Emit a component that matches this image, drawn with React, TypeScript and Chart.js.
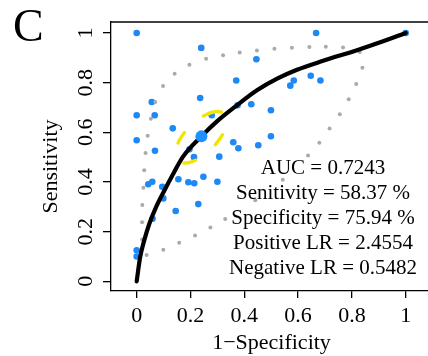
import React, { useEffect, useRef } from "react";
import { Chart, registerables } from "chart.js";

Chart.register(...registerables);

// ---- axis ticks ----
const xTicks = [0, 0.2, 0.4, 0.6, 0.8, 1];
const xTickLabels = ["0", "0.2", "0.4", "0.6", "0.8", "1"];
const yTicks = [0, 0.2, 0.4, 0.6, 0.8, 1];
const yTickLabels = ["0", "0.2", "0.4", "0.6", "0.8", "1"];

// ---- observed (1-specificity, sensitivity) points (blue) ----
const blueFpr = [
  0, 0.24, 0.236, 0.056, 0, 0.067, 0.134, 0, 0.068, 0.279, 0.359, 0.378, 0.196, 0.213,
  0.307, 0.155, 0.192, 0.214, 0.248, 0.3, 0.058, 0.043, 0.095, 0.099, 0.145, 0.229,
  0.059, 0, 0, 0.667, 0.445, 0.37, 0.584, 0.571, 0.647, 0.683, 0.426, 0.499, 0.375,
  0.499, 0.452, 1,
];
const blueTpr = [
  1.0, 0.94, 0.738, 0.722, 0.669, 0.669, 0.616, 0.568, 0.526, 0.669, 0.56, 0.536, 0.532,
  0.5, 0.502, 0.411, 0.399, 0.395, 0.421, 0.401, 0.401, 0.391, 0.381, 0.334, 0.283,
  0.311, 0.252, 0.125, 0.1, 1.0, 0.894, 0.809, 0.809, 0.788, 0.828, 0.809, 0.713, 0.689,
  0.709, 0.584, 0.548, 1.0,
];

// ---- fitted ROC curve (black) ----
const rocFpr = [
  0, 0.013, 0.028, 0.047, 0.072, 0.103, 0.136, 0.171, 0.2406, 0.2985, 0.373, 0.447,
  0.522, 0.596, 0.693, 0.816, 0.916, 1,
];
const rocTpr = [
  0, 0.098, 0.165, 0.232, 0.299, 0.366, 0.433, 0.5, 0.5837, 0.644, 0.709, 0.769, 0.816,
  0.852, 0.888, 0.93, 0.967, 1,
];

// ---- confidence band (gray dotted loop) ----
const bandFpr = [
  0.037, 0.099, 0.158, 0.217, 0.274, 0.329, 0.441, 0.543, 0.637, 0.679, 0.717, 0.755,
  0.788, 0.816, 0.839, 0.829, 0.767, 0.703, 0.642, 0.577, 0.512, 0.447, 0.383, 0.321,
  0.258, 0.196, 0.141, 0.098, 0.069, 0.053, 0.041, 0.033, 0.028, 0.025, 0.021, 0.02, 0.02,
];
const bandTpr = [
  0.106, 0.127, 0.155, 0.185, 0.217, 0.251, 0.326, 0.409, 0.507, 0.558, 0.615, 0.673,
  0.733, 0.795, 0.86, 0.923, 0.942, 0.945, 0.944, 0.941, 0.937, 0.93, 0.921, 0.91, 0.896,
  0.872, 0.836, 0.787, 0.722, 0.655, 0.586, 0.517, 0.447, 0.377, 0.307, 0.238, 0.168,
];

// ---- confidence ellipse around the optimal cut-off (yellow dashed) ----
const ellFpr = [
  0.2716, 0.2938, 0.3123, 0.3258, 0.3334, 0.3345, 0.3292, 0.3177, 0.3009, 0.2798, 0.2559,
  0.2309, 0.2065, 0.1843, 0.1658, 0.1523, 0.1447, 0.1436, 0.1489, 0.1604, 0.1772, 0.1983,
  0.2221, 0.2471, 0.2716,
];
const ellTpr = [
  0.6776, 0.6834, 0.6821, 0.6739, 0.6593, 0.6392, 0.6152, 0.5887, 0.5616, 0.5358, 0.513,
  0.4947, 0.4823, 0.4765, 0.4777, 0.486, 0.5006, 0.5207, 0.5447, 0.5712, 0.5983, 0.6241,
  0.6469, 0.6652, 0.6776,
];

// ---- optimal cut-off point ----
const cutFpr = [0.2406];
const cutTpr = [0.5837];

// ---- annotation ----
const statLines = [
  "AUC = 0.7243",
  "Senitivity = 58.37 %",
  "Specificity = 75.94 %",
  "Positive LR = 2.4554",
  "Negative LR = 0.5482",
];
const panelLabel = "C";
const xTitle = "1\u2212Specificity";
const yTitle = "Sensitivity";

const SERIF = "'Liberation Serif', 'DejaVu Serif', serif";

const zip = (xs: number[], ys: number[]) => xs.map((x, i) => ({ x, y: ys[i] }));

export default function App() {
  const ref = useRef<HTMLCanvasElement | null>(null);

  useEffect(() => {
    if (!ref.current) return;

    const overlay = {
      id: "overlay",
      afterDatasetsDraw(chart: any) {
        const { ctx, chartArea, scales } = chart;
        const ys = scales.y;
        ctx.save();
        // top border of box
        ctx.strokeStyle = "#000";
        ctx.lineWidth = 1.3;
        ctx.beginPath();
        ctx.moveTo(chartArea.left, chartArea.top);
        ctx.lineTo(chartArea.right, chartArea.top);
        ctx.stroke();

        ctx.fillStyle = "#000";
        // y tick labels (rotated, parallel to axis)
        ctx.font = `22px ${SERIF}`;
        ctx.textAlign = "center";
        ctx.textBaseline = "alphabetic";
        yTicks.forEach((v, i) => {
          const py = ys.getPixelForValue(v);
          ctx.save();
          ctx.translate(92, py);
          ctx.rotate(-Math.PI / 2);
          ctx.fillText(yTickLabels[i], 0, 0);
          ctx.restore();
        });
        // y title
        ctx.save();
        ctx.translate(57, 166.5);
        ctx.rotate(-Math.PI / 2);
        ctx.fillText(yTitle, 0, 0);
        ctx.restore();
        // x title
        ctx.fillText(xTitle, 271.5, 349);

        // panel label
        ctx.textAlign = "left";
        ctx.font = `46px ${SERIF}`;
        ctx.fillText(panelLabel, 13, 41);

        // statistics
        ctx.textAlign = "center";
        ctx.font = `21px ${SERIF}`;
        statLines.forEach((s, i) => {
          ctx.fillText(s, 323, 173.5 + i * 25);
        });
        ctx.restore();
      },
    };

    const chart = new Chart(ref.current, {
      type: "scatter",
      data: {
        datasets: [
          {
            label: "cut-off",
            data: zip(cutFpr, cutTpr),
            pointRadius: 6,
            pointBackgroundColor: "#1E90FF",
            pointBorderWidth: 0,
            showLine: false,
          },
          {
            label: "ellipse",
            data: zip(ellFpr, ellTpr),
            showLine: true,
            pointRadius: 0,
            borderColor: "#F2E600",
            borderWidth: 3.5,
            borderDash: [12, 25.5],
            borderCapStyle: "round",
            tension: 0.3,
          },
          {
            label: "ROC",
            data: zip(rocFpr, rocTpr),
            showLine: true,
            pointRadius: 0,
            borderColor: "#000",
            borderWidth: 4.2,
            borderCapStyle: "round",
            cubicInterpolationMode: "monotone",
          },
          {
            label: "band",
            data: zip(bandFpr, bandTpr),
            showLine: false,
            pointRadius: 2,
            pointBackgroundColor: "#AAAAAA",
            pointBorderWidth: 0,
          },
          {
            label: "points",
            data: zip(blueFpr, blueTpr),
            showLine: false,
            pointRadius: 3.3,
            pointBackgroundColor: "#1E88F5",
            pointBorderWidth: 0,
          },
        ],
      },
      options: {
        animation: false,
        responsive: false,
        devicePixelRatio: 1,
        layout: { autoPadding: false, padding: { top: 22, left: 0, right: 0, bottom: 0 } },
        plugins: { legend: { display: false }, tooltip: { enabled: false } },
        scales: {
          x: {
            type: "linear",
            min: -0.0955,
            max: 1.0829,
            afterBuildTicks: (s: any) => {
              s.ticks = xTicks.map((v) => ({ value: v }));
            },
            afterFit: (s: any) => {
              s.height = 65;
            },
            grid: {
              display: true,
              drawOnChartArea: false,
              drawTicks: true,
              tickLength: 7,
              color: "#000",
              lineWidth: 1.3,
            },
            border: { display: true, color: "#000", width: 1.3 },
            ticks: {
              autoSkip: false,
              maxRotation: 0,
              minRotation: 0,
              padding: 5,
              color: "#000",
              font: { family: SERIF, size: 22 },
              callback: (_v: any, i: number) => xTickLabels[i],
            },
          },
          y: {
            type: "linear",
            min: -0.039,
            max: 1.0443,
            afterBuildTicks: (s: any) => {
              s.ticks = yTicks.map((v) => ({ value: v }));
            },
            afterFit: (s: any) => {
              s.width = 111;
            },
            grid: {
              display: true,
              drawOnChartArea: false,
              drawTicks: true,
              tickLength: 8,
              color: "#000",
              lineWidth: 1.3,
            },
            border: { display: true, color: "#000", width: 1.3 },
            ticks: { display: false },
          },
        },
      },
      plugins: [overlay],
    } as any);

    return () => chart.destroy();
  }, []);

  return (
    <div style={{ position: "absolute", left: 0, top: 0, width: 428, height: 356, background: "#fff" }}>
      <canvas ref={ref} width={428} height={356} style={{ display: "block" }} />
    </div>
  );
}
